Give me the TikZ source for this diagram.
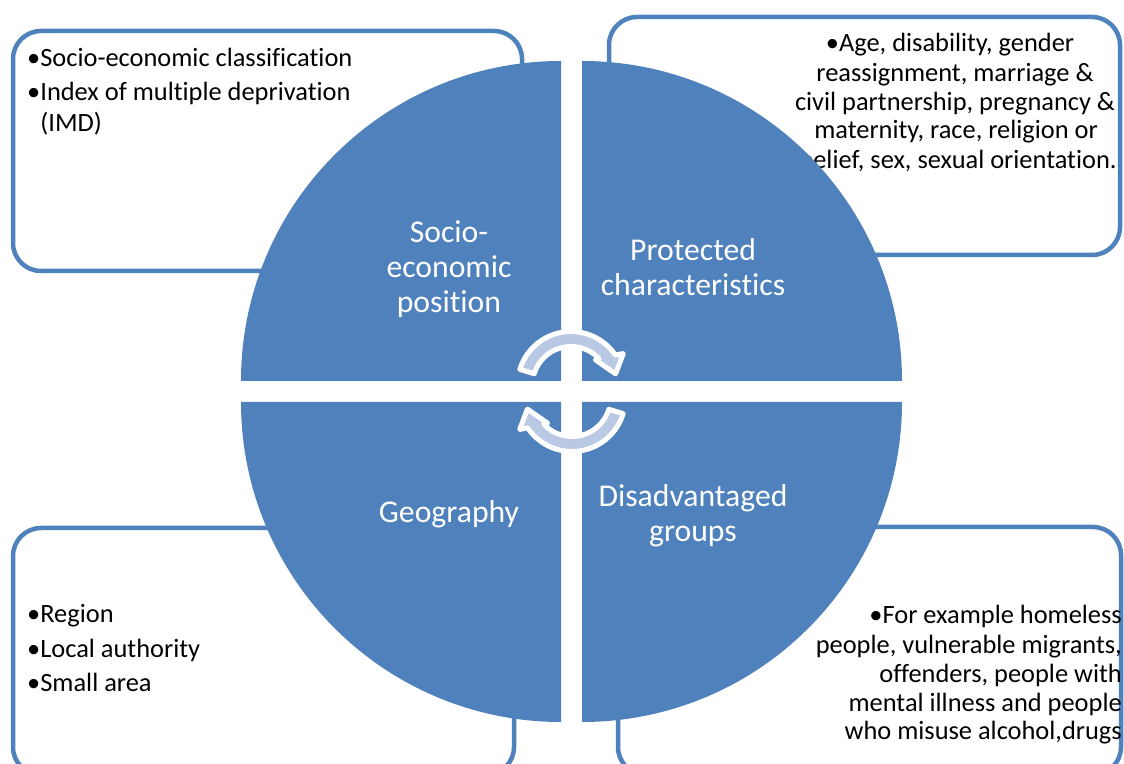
\documentclass[tikz,border=0pt]{standalone}
\usepackage{fontspec}
\setmainfont{Carlito}[Ligatures=NoCommon]
\definecolor{accent}{RGB}{79,129,189}
\definecolor{arrowfill}{RGB}{185,201,227}
\tikzset{
  infobox/.style={draw=accent, line width=4.5pt, rounded corners=28pt, fill=white, inner sep=0pt},
  quad/.style={fill=accent},
  boxtext/.style={font=\fontsize{26.4}{30}\selectfont, inner sep=0pt, text=black},
  quadtext/.style={font=\fontsize{31.7}{35}\selectfont, text=white, inner sep=0pt},
  cyclearrow/.style={fill=arrowfill, draw=white, line width=5pt, line join=round},
}
\begin{document}
\begin{tikzpicture}[x=1pt,y=1pt]
\useasboundingbox (0,0) rectangle (1124,763);
\fill[white] (0,0) rectangle (1124,763);
\clip (0,0) rectangle (1124,763);

% corner boxes
\node[infobox, minimum width=509pt, minimum height=240pt] (tlbox) at (267.5,612) {};
\node[infobox, minimum width=511pt, minimum height=238pt] (trbox) at (864.5,627) {};
\node[infobox, minimum width=501pt, minimum height=247pt] (blbox) at (263.5,111.5) {};
\node[infobox, minimum width=503pt, minimum height=248pt] (brbox) at (869.5,112) {};

% box texts
\node[boxtext, anchor=base west] (tl1) at (27,696) {•Socio-economic classification};
\node[boxtext, anchor=base west] (tl2) at (27,662) {•Index of multiple deprivation};
\node[boxtext, anchor=base west] (tl3) at (27,631) {\phantom{•}(IMD)};

\node[boxtext, anchor=base] (tr1) at (950,711) {•Age, disability, gender};
\node[boxtext, anchor=base] (tr2) at (955,681) {reassignment, marriage \&};
\node[boxtext, anchor=base] (tr3) at (955,652) {civil partnership, pregnancy \&};
\node[boxtext, anchor=base] (tr4) at (956,624) {maternity, race, religion or};
\node[boxtext, anchor=base] (tr5) at (958,594) {belief, sex, sexual orientation.};

\node[boxtext, anchor=base west] (bl1) at (27,140) {•Region};
\node[boxtext, anchor=base west] (bl2) at (27,105) {•Local authority};
\node[boxtext, anchor=base west] (bl3) at (27,71) {•Small area};

\node[boxtext, anchor=base east] (br1) at (1122,139) {•For example homeless};
\node[boxtext, anchor=base east] (br2) at (1122,109) {people, vulnerable migrants,};
\node[boxtext, anchor=base east] (br3) at (1122,81) {offenders, people with};
\node[boxtext, anchor=base east] (br4) at (1122,52) {mental illness and people};
\node[boxtext, anchor=base east] (br5) at (1122,24) {who misuse alcohol,drugs};

% circle quadrants
\fill[quad] (561,382) -- ++(180:320pt) arc[start angle=180, end angle=90, radius=320pt] -- cycle;
\fill[quad] (582,382) -- ++(90:320pt) arc[start angle=90, end angle=0, radius=320pt] -- cycle;
\fill[quad] (561,361) -- ++(270:320pt) arc[start angle=270, end angle=180, radius=320pt] -- cycle;
\fill[quad] (582,361) -- ++(0:320pt) arc[start angle=0, end angle=-90, radius=320pt] -- cycle;

% quadrant labels
\node[quadtext, anchor=base] (sep1) at (449,520) {Socio-};
\node[quadtext, anchor=base] (sep2) at (449,485) {economic};
\node[quadtext, anchor=base] (sep3) at (449,450) {position};
\node[quadtext, anchor=base] (pc1) at (693,502) {Protected};
\node[quadtext, anchor=base] (pc2) at (693,467) {characteristics};
\node[quadtext, anchor=base] (geo) at (449,240) {Geography};
\node[quadtext, anchor=base] (dg1) at (693,256) {Disadvantaged};
\node[quadtext, anchor=base] (dg2) at (693,221) {groups};

% circular arrows
\begin{scope}[shift={(571,378)}]
\path[cyclearrow] (163:53.5pt) arc[start angle=163, end angle=34, radius=53.5pt]
  -- (31:61pt) -- (14:46pt) -- (46:35pt) -- (43:38.5pt)
  arc[start angle=43, end angle=163, radius=38.5pt] -- cycle;
\end{scope}
\begin{scope}[shift={(572,365)}, rotate=180]
\path[cyclearrow] (163:53.5pt) arc[start angle=163, end angle=34, radius=53.5pt]
  -- (31:61pt) -- (14:46pt) -- (46:35pt) -- (43:38.5pt)
  arc[start angle=43, end angle=163, radius=38.5pt] -- cycle;
\end{scope}
\end{tikzpicture}
\end{document}
